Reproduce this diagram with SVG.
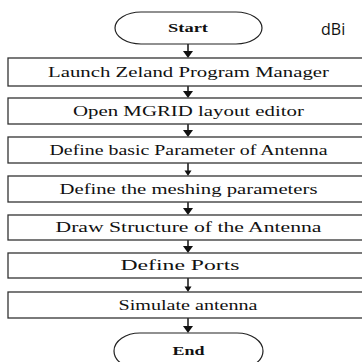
<svg xmlns="http://www.w3.org/2000/svg" width="362" height="362" viewBox="0 0 362 362">
<style>
.box{fill:#fff;stroke:#333;stroke-width:1.3}
.term{fill:#fff;stroke:#222;stroke-width:1.2}
.t{font-family:"Liberation Serif","Times New Roman",serif;font-size:14px;fill:#111;text-anchor:middle}
.b{font-weight:bold;font-size:13px}
.lbl{font-family:"Open Sans","DejaVu Sans",sans-serif;font-size:16px;fill:#111}
.c{stroke:#111;stroke-width:1.5;fill:none}
</style>
<rect x="0" y="0" width="362" height="362" fill="#fff"/>
<g id="connectors">
<g fill="#111">
<line class="c" x1="188" y1="44" x2="188" y2="52"/><path d="M183,51 L193,51 L188,58 Z"/>
<line class="c" x1="188" y1="86" x2="188" y2="92"/><path d="M183,91 L193,91 L188,98 Z"/>
<line class="c" x1="188" y1="124" x2="188" y2="131"/><path d="M183,130 L193,130 L188,137 Z"/>
<line class="c" x1="188" y1="163" x2="188" y2="171"/><path d="M184.5,170.5 L191.5,170.5 L188,176 Z"/>
<line class="c" x1="188" y1="202" x2="188" y2="209"/><path d="M183,208 L193,208 L188,215 Z"/>
<line class="c" x1="188" y1="240" x2="188" y2="247"/><path d="M183,246 L193,246 L188,253 Z"/>
<line class="c" x1="188" y1="278" x2="188" y2="287"/><path d="M184.5,286.5 L191.5,286.5 L188,292 Z"/>
<line class="c" x1="188" y1="318" x2="188" y2="327"/><path d="M183,326 L193,326 L188,333 Z"/>
</g>
</g>
<g id="start"><rect class="term" x="115" y="12" width="147" height="32" rx="26" ry="16"/><text class="t b" x="188" y="32" textLength="40" lengthAdjust="spacingAndGlyphs">Start</text></g>
<g id="n1"><rect class="box" x="8" y="58" width="370" height="28"/><text class="t" x="188.5" y="76.5" textLength="281" lengthAdjust="spacingAndGlyphs">Launch Zeland Program Manager</text></g>
<g id="n2"><rect class="box" x="8" y="98" width="370" height="26"/><text class="t" x="188.5" y="115.5" textLength="231" lengthAdjust="spacingAndGlyphs">Open MGRID layout editor</text></g>
<g id="n3"><rect class="box" x="8" y="137" width="370" height="26"/><text class="t" x="188.5" y="154.5" textLength="278" lengthAdjust="spacingAndGlyphs">Define basic Parameter of Antenna</text></g>
<g id="n4"><rect class="box" x="8" y="176" width="370" height="26"/><text class="t" x="188.5" y="193.5" textLength="258" lengthAdjust="spacingAndGlyphs">Define the meshing parameters</text></g>
<g id="n5"><rect class="box" x="8" y="215" width="370" height="25"/><text class="t" x="188.5" y="232" textLength="266" lengthAdjust="spacingAndGlyphs">Draw Structure of the Antenna</text></g>
<g id="n6"><rect class="box" x="8" y="253" width="370" height="25"/><text class="t" x="180" y="270" textLength="119" lengthAdjust="spacingAndGlyphs">Define Ports</text></g>
<g id="n7"><rect class="box" x="8" y="292" width="370" height="26"/><text class="t" x="188" y="309.5" textLength="139" lengthAdjust="spacingAndGlyphs">Simulate antenna</text></g>
<g id="end"><rect class="term" x="114" y="333" width="149" height="36" rx="26" ry="18"/><text class="t b" x="188.5" y="355" textLength="32" lengthAdjust="spacingAndGlyphs">End</text></g>
<text class="lbl" x="321" y="35">dBi</text>
</svg>
